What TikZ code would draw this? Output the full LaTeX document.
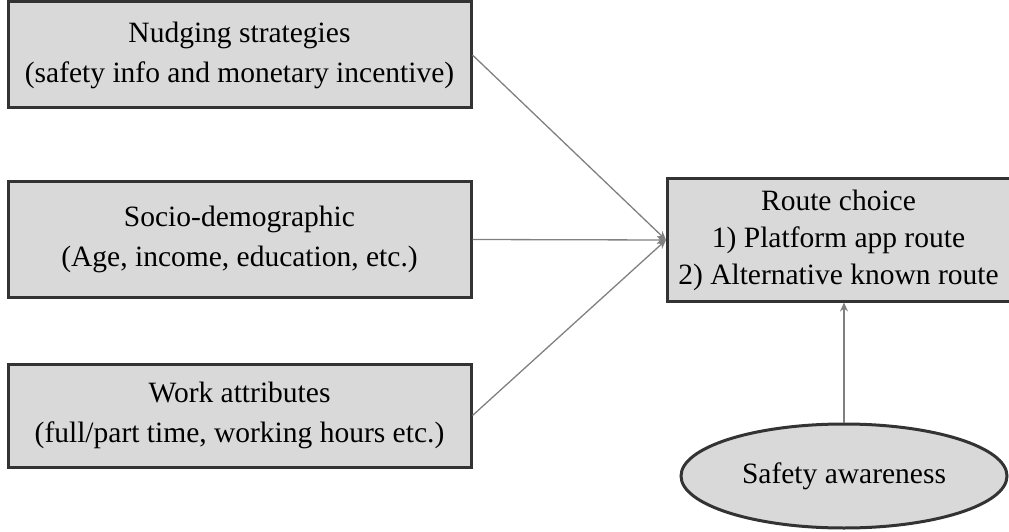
\documentclass[tikz,border=0pt]{standalone}
\usepackage{fontspec}
\setmainfont{Liberation Serif}
\usetikzlibrary{arrows.meta,shapes.geometric}
\definecolor{boxfill}{HTML}{D9D9D9}
\definecolor{boxline}{HTML}{333333}
\definecolor{conn}{HTML}{808080}
\begin{document}
\begin{tikzpicture}[x=1pt,y=1pt,
  factor/.style={draw=boxline, line width=3pt, fill=boxfill, inner sep=0pt,
    minimum width=463pt, align=center, font=\fontsize{29.5}{40}\selectfont},
  outcome/.style={draw=boxline, line width=3pt, fill=boxfill, inner sep=0pt,
    minimum width=350pt, minimum height=122pt, align=center, font=\fontsize{29.5}{37}\selectfont},
  oval/.style={ellipse, draw=boxline, line width=3pt, fill=boxfill, inner sep=0pt,
    minimum width=326pt, minimum height=104pt, font=\fontsize{29.5}{37}\selectfont},
  link/.style={draw=conn, line width=1.3pt, -{Stealth[length=9pt,width=8pt]}}]
\useasboundingbox (0,0) rectangle (1009,531);
\node[factor, minimum height=106pt] (nudge) at (239.5,476) {Nudging strategies\\(safety info and monetary incentive)};
\node[factor, minimum height=115pt] (socio) at (239.5,291.5) {Socio-demographic\\(Age, income, education, etc.)};
\node[factor, minimum height=103pt] (work) at (239.5,115.5) {Work attributes\\(full/part time, working hours etc.)};
\node[outcome, anchor=west] (route) at (666,291) {\hspace*{-8pt}Route choice\\\hspace*{-8pt}1) Platform app route\\\hspace*{-8pt}2) Alternative known route};
\node[oval] (aware) at (844,55) {Safety awareness};
\draw[link] (nudge.east) -- (route.west);
\draw[link] (socio.east) -- (route.west);
\draw[link] (work.east) -- (route.west);
\draw[link] (aware.north) -- (aware.north |- route.south);
\end{tikzpicture}
\end{document}
